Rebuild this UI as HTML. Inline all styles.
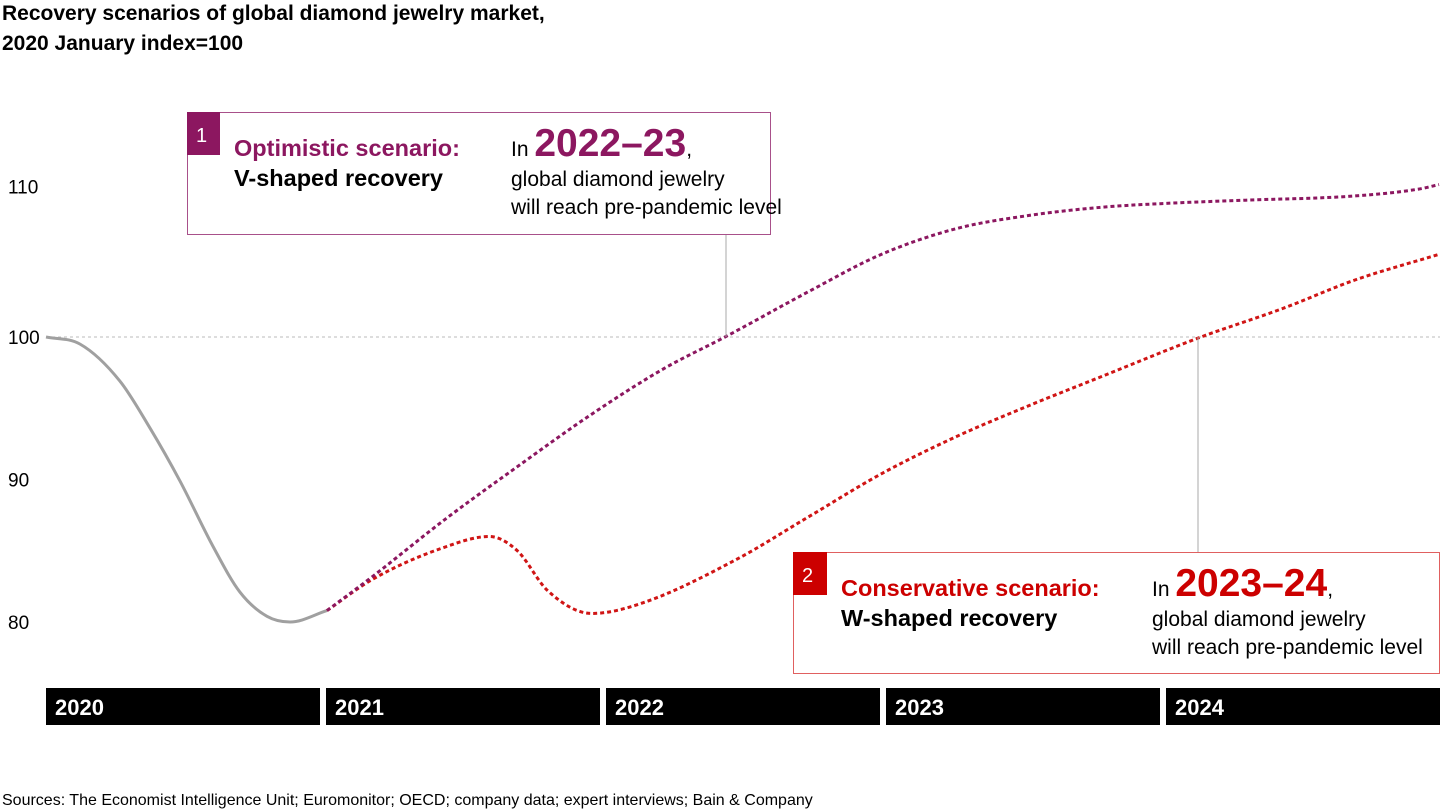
<!DOCTYPE html>
<html><head><meta charset="utf-8"><style>
body{margin:0;width:1440px;height:810px;background:#fff;overflow:hidden;font-family:"Liberation Sans",Arial,sans-serif}
svg{position:absolute;left:0;top:0}
</style></head><body>
<svg id="chart" width="1440" height="810">
<text x="2" y="20" font-size="21" font-weight="bold">Recovery scenarios of global diamond jewelry market,</text>
<text x="2" y="50" font-size="21" font-weight="bold">2020 January index=100</text>
<g id="yaxis"></g>
<g id="lines"></g>
<line x1="726" y1="234" x2="726" y2="337" stroke="#aaa" stroke-width="1"/>
<line x1="1198" y1="337" x2="1198" y2="552" stroke="#aaa" stroke-width="1"/>
<g>
<rect x="187.5" y="112.5" width="583" height="122" fill="#fff" stroke="#a8508a" stroke-width="1"/>
<rect x="187" y="112" width="33" height="43" fill="#8c1760"/>
<text x="196" y="142" font-size="20" fill="#fff">1</text>
<text x="234" y="156" font-size="23.5" font-weight="bold" fill="#8c1760">Optimistic scenario:</text>
<text x="234" y="186" font-size="23.5" font-weight="bold" fill="#000">V-shaped recovery</text>
<text x="511" y="156" font-size="21" fill="#000">In <tspan font-size="39" font-weight="bold" fill="#8c1760">2022–23</tspan>,</text>
<text x="511" y="186" font-size="21" fill="#000">global diamond jewelry</text>
<text x="511" y="214" font-size="21" fill="#000">will reach pre-pandemic level</text>
</g>
<g>
<rect x="793.5" y="552.5" width="646" height="121" fill="#fff" stroke="#e06060" stroke-width="1"/>
<rect x="793" y="552" width="34" height="43" fill="#cc0000"/>
<text x="802" y="582" font-size="20" fill="#fff">2</text>
<text x="841" y="596" font-size="23.5" font-weight="bold" fill="#cc0000">Conservative scenario:</text>
<text x="841" y="626" font-size="23.5" font-weight="bold" fill="#000">W-shaped recovery</text>
<text x="1152" y="596" font-size="21" fill="#000">In <tspan font-size="39" font-weight="bold" fill="#cc0000">2023–24</tspan>,</text>
<text x="1152" y="626" font-size="21" fill="#000">global diamond jewelry</text>
<text x="1152" y="654" font-size="21" fill="#000">will reach pre-pandemic level</text>
</g>
<g id="years"></g>
<text x="2" y="805" font-size="16" fill="#000">Sources: The Economist Intelligence Unit; Euromonitor; OECD; company data; expert interviews; Bain &amp; Company</text>
</svg>
<script>
const years=["2020","2021","2022","2023","2024"];
const yTicks=[80,90,100,110];
const histMonths=[0,1.46,3.17,4.46,5.74,7.16,8.31,9.47,10.46,12.04];
const histValues=[100,99.5,96.9,93.6,89.9,85.3,82.1,80.4,80,80.8];
const optMonths=[12.04,14.0,17.1,20.2,23.4,26.5,29.1,32.7,35.8,39.0,42.0,45.2,48.3,51.4,56.1,58.9,59.7];
const optValues=[80.8,83.2,87.2,90.9,94.6,97.8,100,103.2,105.8,107.6,108.5,109.1,109.4,109.6,109.9,110.4,110.7];
const conMonths=[12.04,14.0,17.0,19.0,20.2,21.5,23.4,25.5,29.6,32.7,35.8,39.0,42.0,45.2,49.5,53.0,56.1,59.7];
const conValues=[80.8,83.0,85.2,86.0,85.0,82.2,80.6,81.3,84.4,87.4,90.4,93.0,95.1,97.2,100,102,104,105.8];
const NS="http://www.w3.org/2000/svg";
const x=m=>46+m*280/12;
const y=v=>337-(v-100)*14.25;
function path(ms,vs){
  const p=ms.map((m,i)=>[x(m),y(vs[i])]);
  const n=p.length;
  const d=[],mm=[];
  for(let i=0;i<n-1;i++)d.push((p[i+1][1]-p[i][1])/(p[i+1][0]-p[i][0]));
  mm[0]=d[0];mm[n-1]=d[n-2];
  for(let i=1;i<n-1;i++)mm[i]=(d[i-1]*d[i]<=0)?0:(d[i-1]+d[i])/2;
  for(let i=0;i<n-1;i++){if(d[i]===0){mm[i]=mm[i+1]=0;continue;}
    const a=mm[i]/d[i],b=mm[i+1]/d[i],s=a*a+b*b;
    if(s>9){const t=3/Math.sqrt(s);mm[i]=t*a*d[i];mm[i+1]=t*b*d[i];}}
  let s="M"+p[0][0]+","+p[0][1];
  for(let i=0;i<n-1;i++){const h=(p[i+1][0]-p[i][0])/3;
    s+=" C"+(p[i][0]+h)+","+(p[i][1]+mm[i]*h)+" "+(p[i+1][0]-h)+","+(p[i+1][1]-mm[i+1]*h)+" "+p[i+1][0]+","+p[i+1][1];}
  return s;
}
const ya=document.getElementById('yaxis');
const ref=document.createElementNS(NS,'line');
ref.setAttribute('x1',46);ref.setAttribute('x2',1440);ref.setAttribute('y1',y(100));ref.setAttribute('y2',y(100));
ref.setAttribute('stroke','#bbb');ref.setAttribute('stroke-dasharray','3,3');


ya.appendChild(ref);
yTicks.forEach(v=>{
  const t=document.createElementNS(NS,'text');
  t.setAttribute('x',8);t.setAttribute('y',y(v)+(v===110?-1:7));t.setAttribute('font-size','19');
  t.textContent=v;
  
  
  ya.appendChild(t);
});
const lg=document.getElementById('lines');
function addLine(ms,vs,color,dash,name){
  const p=document.createElementNS(NS,'path');
  p.setAttribute('d',path(ms,vs));p.setAttribute('fill','none');p.setAttribute('stroke',color);
  p.setAttribute('stroke-width',3);
  if(dash)p.setAttribute('stroke-dasharray','4,3');
  
  
  lg.appendChild(p);
}
addLine(histMonths,histValues,'#a0a0a0',false,'historical-line');
addLine(conMonths,conValues,'#d01515',true,'conservative-line');
addLine(optMonths,optValues,'#8c1760',true,'optimistic-line');
const yg=document.getElementById('years');
years.forEach((yr,i)=>{
  const r=document.createElementNS(NS,'rect');
  r.setAttribute('x',x(i*12));r.setAttribute('y',688);r.setAttribute('width',274);r.setAttribute('height',37);r.setAttribute('fill','#000');
  
  
  yg.appendChild(r);
  const t=document.createElementNS(NS,'text');
  t.setAttribute('x',x(i*12)+9);t.setAttribute('y',715);t.setAttribute('font-size','22');t.setAttribute('font-weight','bold');t.setAttribute('fill','#fff');
  t.textContent=yr;
  
  
  yg.appendChild(t);
});
</script>
</body></html>
